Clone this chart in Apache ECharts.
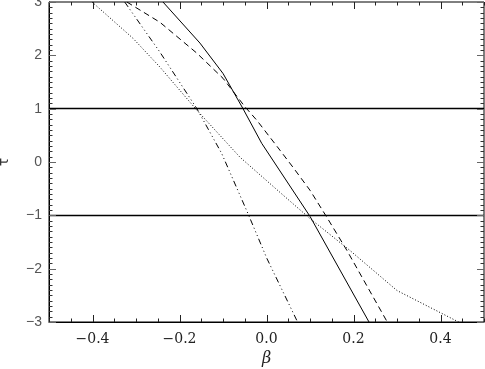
<!DOCTYPE html>
<html>
<head>
<meta charset="utf-8">
<script src="https://cdn.jsdelivr.net/npm/echarts@6/dist/echarts.min.js"></script>
<style>
  html, body { margin: 0; padding: 0; background: #fff; }
  #chart { width: 485px; height: 369px; }
</style>
</head>
<body>
<div id="chart"></div>
<script>
// curves as [beta, tau] pairs
var solidCurve = [[-0.238, 3.0], [-0.153, 2.23], [-0.100, 1.66], [-0.054, 1.0], [-0.011, 0.35], [0.100, -1.02], [0.237, -3.02]];
var dashedCurve = [[-0.321, 3.0], [-0.245, 2.62], [-0.160, 2.04], [-0.100, 1.57], [-0.050, 1.04], [-0.022, 0.78], [0.031, 0.22], [0.061, -0.10], [0.100, -0.53], [0.139, -1.04], [0.185, -1.66], [0.279, -3.02]];
var dottedCurve = [[-0.401, 3.0], [-0.307, 2.32], [-0.245, 1.78], [-0.160, 0.97], [-0.061, 0.09], [0.031, -0.57], [0.100, -1.06], [0.192, -1.66], [0.300, -2.41], [0.444, -3.01]];
var dashDotCurve = [[-0.326, 3.0], [-0.245, 2.06], [-0.160, 1.0], [-0.103, 0.16], [-0.043, -0.96], [0.001, -1.81], [0.072, -3.01]];

var xTicks = [-0.4, -0.2, 0, 0.2, 0.4];
var tauLevels = [1, -1];
var xMin = -0.5, xMax = 0.5, yMin = -3, yMax = 3;

var chart = echarts.init(document.getElementById("chart"));

function fmtNum(v, d) {
  return (v < -1e-9 ? "\u2212" : "") + Math.abs(v).toFixed(d);
}

// inward ticks on all four sides: 0.05 steps on beta, 0.1 steps on tau
var tickMarks = [];
for (var i = 0; i <= 20; i++) {
  var xv = +(xMin + i * 0.05).toFixed(2);
  var xMajor = xTicks.some(function (t) { return Math.abs(t - xv) < 1e-6; });
  tickMarks.push({ dim: "x", v: xv, len: xMajor ? 7 : 3.5, color: "#222" });
}
for (var j = 0; j <= 60; j++) {
  var yv = +(yMin + j * 0.1).toFixed(1);
  var yMajor = Math.abs(yv - Math.round(yv)) < 1e-6;
  tickMarks.push({ dim: "y", v: yv, len: yMajor ? 7 : 3.5, color: yMajor ? "#666" : "#333" });
}

function seg(x1, y1, x2, y2, color) {
  return { type: "line", shape: { x1: x1, y1: y1, x2: x2, y2: y2 }, style: { stroke: color, lineWidth: 1 } };
}

function renderTick(params, api) {
  var t = tickMarks[params.dataIndex];
  if (t.dim === "x") {
    var b = api.coord([t.v, yMin]), tp = api.coord([t.v, yMax]);
    var x = Math.round(b[0]) + 0.5;
    return { type: "group", children: [seg(x, b[1], x, b[1] - t.len, t.color), seg(x, tp[1], x, tp[1] + t.len, t.color)] };
  }
  var l = api.coord([xMin, t.v]), r = api.coord([xMax, t.v]);
  var y = Math.round(l[1]) + 0.5;
  return { type: "group", children: [seg(l[0], y, l[0] + t.len, y, t.color), seg(r[0], y, r[0] - t.len, y, t.color)] };
}

function curve(data, dash) {
  return {
    type: "line", data: data,
    showSymbol: false, symbol: "none",
    lineStyle: { color: "#000", width: 1, type: dash }
  };
}

var series = [
  curve(solidCurve, "solid"),
  curve(dashedCurve, [6, 4]),
  curve(dottedCurve, [1, 2]),
  curve(dashDotCurve, [6, 3, 1, 3, 1, 3, 1, 3]),
  {
    type: "custom", silent: true, clip: false, z: 5,
    renderItem: renderTick,
    data: tickMarks.map(function (t) { return t.dim === "x" ? [t.v, yMin] : [xMin, t.v]; })
  }
];
series[0].markLine = {
  silent: true, symbol: "none", label: { show: false },
  lineStyle: { color: "#000", width: 1.3, type: "solid" },
  data: tauLevels.map(function (t) { return { yAxis: t }; })
};

chart.setOption({
  animation: false,
  grid: {
    left: 49, right: 1, top: 2, bottom: 47, outerBoundsMode: "none",
    show: true, borderColor: "#000", borderWidth: 1, backgroundColor: "transparent"
  },
  xAxis: {
    type: "value", min: xMin, max: xMax,
    axisLine: { show: true, onZero: false, lineStyle: { color: "#000" } },
    axisTick: { show: false },
    splitLine: { show: false },
    axisLabel: {
      customValues: xTicks, margin: 10,
      fontFamily: "DejaVu Serif", fontSize: 14, color: "#222",
      formatter: function (v) { return fmtNum(v, 1); }
    },
    name: "\u03b2", nameLocation: "middle", nameGap: 27,
    nameTextStyle: { fontFamily: "DejaVu Serif", fontStyle: "italic", fontSize: 16, color: "#222" }
  },
  yAxis: {
    type: "value", min: yMin, max: yMax, interval: 1,
    axisLine: { show: true, onZero: false, lineStyle: { color: "#000" } },
    axisTick: { show: false },
    splitLine: { show: false },
    axisLabel: {
      margin: 7, fontFamily: "Liberation Sans", fontSize: 14, color: "#555",
      formatter: function (v) { return fmtNum(v, 0); }
    },
    name: "\u03c4", nameLocation: "middle", nameGap: 38, nameRotate: 90,
    nameTextStyle: { fontFamily: "DejaVu Sans", fontSize: 14, color: "#333" }
  },
  series: series
});
</script>
</body>
</html>
